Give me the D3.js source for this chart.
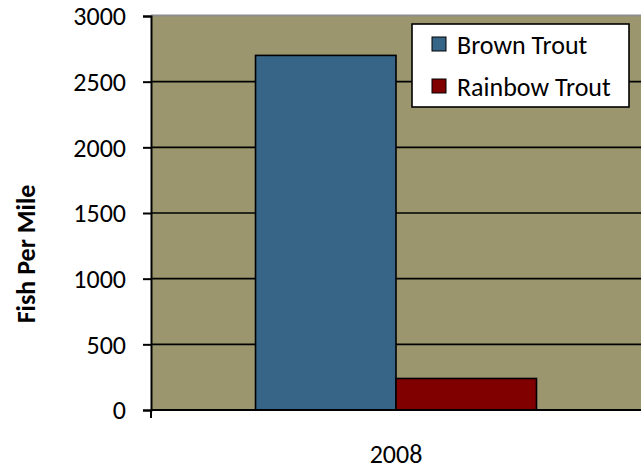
<!DOCTYPE html>
<html>
<head>
<meta charset="utf-8">
<script src="https://cdn.jsdelivr.net/npm/d3@7"></script>
<style>
  html, body { margin: 0; padding: 0; background: #fff; }
  svg { display: block; }
  text { font-family: Carlito, Lato, "Open Sans", sans-serif; fill: #000; }
</style>
</head>
<body>
<svg id="chart" width="641" height="472"></svg>
<script>
const categories = ["2008"];
const seriesNames = ["Brown Trout", "Rainbow Trout"];
const brownTrout = [2700];
const rainbowTrout = [240];
const yTicks = [0, 500, 1000, 1500, 2000, 2500, 3000];
const yTitle = "Fish Per Mile";

const seriesValues = [brownTrout, rainbowTrout];
const colors = ["#376587", "#800000"];

const svg = d3.select("#chart");
const plot = { left: 151, right: 641, top: 16, bottom: 410 };

const y = d3.scaleLinear().domain([0, 3000]).range([plot.bottom, plot.top]);
const x0 = d3.scaleBand().domain(categories).range([plot.left, plot.right])
  .paddingInner(0).paddingOuter(0.372);
const x1 = d3.scaleBand().domain(seriesNames).range([0, x0.bandwidth()]).padding(0);

// plot background
svg.append("rect")
  .attr("x", plot.left).attr("y", plot.top)
  .attr("width", plot.right - plot.left).attr("height", plot.bottom - plot.top)
  .attr("fill", "#9c966e");

// top border
svg.append("line")
  .attr("x1", plot.left).attr("x2", plot.right)
  .attr("y1", plot.top - 0.5).attr("y2", plot.top - 0.5)
  .attr("stroke", "#8c8c8c").attr("stroke-width", 2);

// gridlines
svg.append("g").selectAll("line").data(yTicks.filter(d => d < 3000)).join("line")
  .attr("x1", plot.left).attr("x2", plot.right)
  .attr("y1", d => y(d)).attr("y2", d => y(d))
  .attr("stroke", "#000").attr("stroke-width", 1.6);

// bars
const groups = svg.append("g").selectAll("g").data(categories).join("g")
  .attr("transform", d => `translate(${x0(d)},0)`);
groups.selectAll("rect")
  .data((d, i) => seriesNames.map((s, j) => ({ s, v: seriesValues[j][i], c: colors[j] })))
  .join("rect")
  .attr("x", d => x1(d.s))
  .attr("y", d => y(d.v))
  .attr("width", x1.bandwidth())
  .attr("height", d => y(0) - y(d.v))
  .attr("fill", d => d.c)
  .attr("stroke", "#000").attr("stroke-width", 1.6);

// y axis
const yAxis = d3.axisLeft(y).tickValues(yTicks).tickSize(8).tickPadding(17)
  .tickFormat(d3.format("d"));
const ya = svg.append("g").attr("transform", `translate(${plot.left},0)`).call(yAxis);
ya.select(".domain").attr("stroke", "#000").attr("stroke-width", 2);
ya.selectAll(".tick line").attr("stroke", "#000").attr("stroke-width", 2);
ya.selectAll(".tick text").style("font-size", "26px")
  .style("font-family", "Carlito, Lato, 'Open Sans', sans-serif").attr("dy", "0.34em");

// x axis
const xAxis = d3.axisBottom(x0).tickSize(0).tickPadding(35);
const xa = svg.append("g").attr("transform", `translate(0,${plot.bottom})`).call(xAxis);
xa.select(".domain").remove();
xa.selectAll(".tick text").style("font-size", "26px")
  .style("font-family", "Carlito, Lato, 'Open Sans', sans-serif");
svg.append("line")
  .attr("x1", plot.left).attr("x2", plot.left)
  .attr("y1", plot.bottom).attr("y2", plot.bottom + 8)
  .attr("stroke", "#000").attr("stroke-width", 2);
svg.append("line")
  .attr("x1", plot.left).attr("x2", plot.right)
  .attr("y1", plot.bottom).attr("y2", plot.bottom)
  .attr("stroke", "#000").attr("stroke-width", 2);

// y title
svg.append("text")
  .attr("transform", "translate(35,254) rotate(-90)")
  .attr("text-anchor", "middle")
  .style("font-size", "26px").style("font-weight", "bold")
  .text(yTitle);

// legend
const lg = svg.append("g");
lg.append("rect").attr("x", 412).attr("y", 24).attr("width", 217).attr("height", 83)
  .attr("fill", "#fff").attr("stroke", "#000").attr("stroke-width", 1.6);
const items = lg.selectAll("g.item").data(seriesNames).join("g")
  .attr("transform", (d, i) => `translate(432,${37 + i * 42})`);
items.append("rect").attr("width", 14).attr("height", 14)
  .attr("fill", (d, i) => colors[i]).attr("stroke", "#000").attr("stroke-width", 1);
items.append("text").attr("x", 25).attr("y", 17)
  .style("font-size", "26px").text(d => d);
</script>
</body>
</html>
